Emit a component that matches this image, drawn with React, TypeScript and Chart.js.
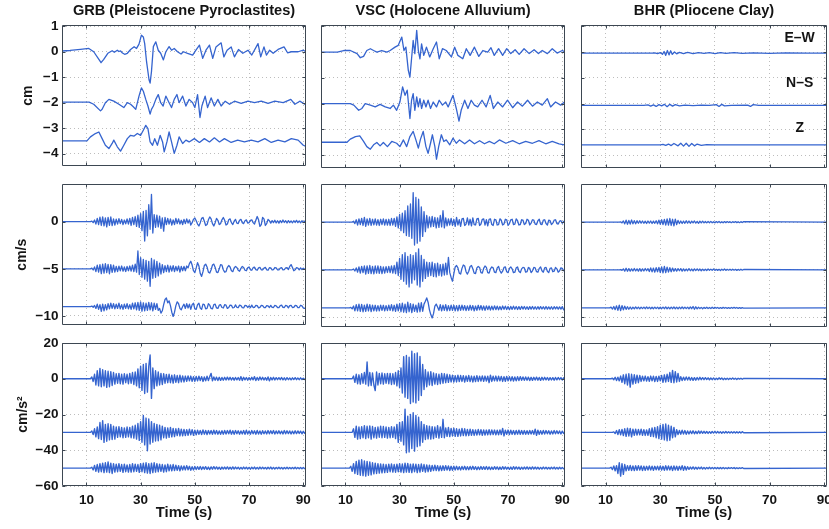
import React, { useEffect, useRef } from 'react';
import { Chart, registerables } from 'chart.js';

Chart.register(...registerables);

// ---------- axes ----------
const TIME_MIN = 1;
const TIME_MAX = 91;
const X_TICKS = [10, 30, 50, 70, 90];
const DISP_TICKS = [1, 0, -1, -2, -3, -4];
const VEL_TICKS = [0, -5, -10];
const ACC_TICKS = [20, 0, -20, -40, -60];
const DISP_RANGE = [-4.5, 1.05];
const VEL_RANGE = [-11, 4];
const ACC_RANGE = [-60, 20];

const STATION_TITLES = ['GRB (Pleistocene Pyroclastites)', 'VSC (Holocene Alluvium)', 'BHR (Pliocene Clay)'];
const ROW_UNITS = ['cm', 'cm/s', 'cm/s\u00B2'];
const COMPONENTS = ['E\u2013W', 'N\u2013S', 'Z'];
const COMPONENT_LABEL_T = 81;
const COMPONENT_LABEL_Y = [0.55, -1.2, -2.95];

// vertical offsets of the three components in each row
const DISP_OFFSETS = [[0, -2, -3.5], [0, -2, -3.5], [-0.04, -2.07, -3.6]];
const VEL_OFFSETS = [0, -5, -9];
const ACC_OFFSETS = [0, -30, -50];

// ---------- displacement (cm), [time s, value] ----------
const GRB_DISP_EW = [[1,0.03],[4,0.05],[7.8,0.09],[10.9,0.13],[12.7,0],[14.6,-0.3],[15.4,-0.43],[16.4,-0.3],[17.9,-0.06],[19.5,0.04],[20.3,-0.02],[21.4,0.06],[22,0.01],[22.6,0.03],[23.3,-0.05],[24.1,-0.1],[25.1,-0.06],[26.3,0.09],[27.6,0.2],[28.5,0.13],[29.4,0.3],[30.3,0.65],[31,0.58],[31.5,0.32],[32.2,-0.4],[33.1,-1.1],[33.5,-1.23],[34,-0.78],[34.7,0.2],[35.6,0.39],[36.5,0.06],[37.4,-0.06],[38.4,-0.32],[39.3,0],[40.5,0.2],[41.4,0.06],[42.4,0.13],[43.6,0],[44.9,-0.09],[45.8,0],[47.3,-0.06],[49.2,-0.13],[50.4,0.06],[51.7,0.26],[52.9,-0.26],[54.1,0.06],[55.4,0.26],[56.6,-0.26],[57.8,0.19],[59.7,0.35],[60.7,-0.2],[61.9,0.06],[63.4,0.19],[64.6,-0.2],[66.1,0.09],[67.7,-0.06],[69.6,0.06],[71,-0.13],[73.3,0.32],[74.3,-0.2],[75.5,0.19],[76.4,-0.13],[77.6,0.06],[78.9,-0.06],[80.7,0.09],[82.9,0.19],[84.2,-0.04],[85.6,0],[88.1,0],[90,0.06],[91,0]];
const GRB_DISP_NS = [[1,0.02],[11,0.02],[12.7,-0.06],[15.2,-0.32],[15.8,-0.26],[17,0],[18.3,0.13],[20.1,0.06],[22,-0.06],[23.8,-0.19],[25.1,0],[26.3,-0.06],[27.3,-0.16],[28.2,-0.26],[29.4,0.26],[30.3,0.58],[31,0.45],[31.9,0.13],[32.7,-0.13],[33.5,-0.45],[34,-0.26],[34.7,-0.13],[35.6,0.13],[36.5,0.32],[37.4,0],[38.3,-0.13],[39.3,0.26],[40.5,0],[41.4,-0.19],[42.4,0.13],[43.4,0.32],[44.2,0],[45.5,0.26],[46.7,-0.13],[47.9,0.13],[49.2,0],[50,-0.19],[51,0.32],[51.9,-0.58],[52.6,-0.13],[53.8,0.26],[54.7,-0.19],[56,0.19],[57.2,-0.13],[58.5,0.13],[59.7,-0.13],[61.2,0.06],[62.8,-0.06],[64.6,0.06],[67.1,-0.03],[69.6,0.06],[72,0],[74.5,0.06],[77,-0.03],[79.5,0.06],[82.6,0],[85.4,0.13],[86.9,-0.06],[88.7,0.06],[90.6,-0.06],[91,-0.04]];
const GRB_DISP_Z = [[1,0],[10.2,0],[11.5,0.16],[13.3,0.29],[14.6,0.35],[15.8,0.09],[17,-0.17],[18.3,-0.3],[19.5,-0.1],[20.1,0.03],[21.4,-0.23],[22.6,-0.4],[23.8,-0.17],[25.1,0.09],[26.3,0.22],[27.6,0.19],[28.8,0.29],[30,0.22],[31,0.42],[31.9,0.61],[32.7,0.48],[33.5,-0.04],[34.4,-0.17],[35.2,0.09],[36.2,-0.17],[37.2,0.22],[38.1,-0.04],[38.7,-0.43],[39.7,-0.04],[40.5,0.35],[41.4,-0.04],[42.4,-0.49],[43.4,-0.17],[44.2,0.16],[45.5,-0.1],[46.7,0.03],[47.9,-0.04],[49.8,0.09],[51.7,-0.06],[53.5,0.09],[55.4,-0.04],[57.2,0.12],[59.1,-0.04],[60.9,0.09],[63.4,-0.06],[65.8,0.03],[68.3,-0.04],[70.8,0.03],[73.3,-0.04],[75.8,0.09],[78.2,-0.06],[80.7,0.03],[83.2,-0.04],[85.6,0.09],[88.1,0.03],[90,-0.17],[91,-0.22]];

const VSC_DISP_EW = [[1,0],[7,0],[9.4,0.06],[11.8,0.06],[14.3,-0.06],[15.5,-0.22],[16.7,-0.17],[17.9,0.06],[19.2,0.13],[20.4,0.06],[21.6,0],[23.4,0.06],[25.3,0],[26.5,0.06],[28.3,0.19],[29.5,0.26],[30.8,0.58],[31.6,0.06],[32.3,0.19],[33.2,-0.71],[33.8,-0.97],[34.4,-0.26],[35,0.45],[35.6,-0.06],[36.3,0.84],[36.9,0.06],[37.5,-0.26],[38.1,0.32],[38.9,-0.13],[39.9,0.19],[41.1,-0.19],[42.4,0.13],[43.6,0.39],[44.6,-0.26],[45.8,0.13],[47.2,0.06],[49.1,-0.19],[50.3,0.19],[51.5,-0.13],[53.3,-0.26],[54.6,0.13],[56,-0.13],[57.6,0.19],[59.2,-0.17],[60.7,0.06],[62.5,0],[63.7,0.17],[64.9,-0.13],[66.5,0.13],[68,-0.13],[69.5,0.13],[71,-0.06],[72.6,0.09],[74.1,-0.09],[75.9,0.13],[77.8,-0.06],[79.6,0.09],[81.2,-0.06],[82.6,0.06],[84.5,-0.06],[86.3,0.13],[88.1,-0.04],[90,0.06],[91,0]];
const VSC_DISP_NS = [[1,0],[11.8,0],[13.1,-0.06],[14.9,-0.26],[16.1,-0.19],[17.3,0],[19.2,-0.06],[21,-0.13],[22.8,-0.03],[24.7,-0.13],[26.5,-0.19],[27.7,-0.06],[28.9,-0.26],[30.1,0.06],[31.1,0.65],[32,0.32],[32.8,0.52],[33.8,-0.58],[34.4,0.13],[35,0.39],[35.6,-0.26],[36.3,0.26],[36.9,-0.13],[37.5,0.19],[38.1,-0.19],[38.9,0.13],[39.7,-0.13],[40.5,0.13],[41.4,-0.19],[42.4,0.06],[43.6,-0.13],[44.6,0.13],[45.8,-0.06],[47,0.06],[47.9,-0.13],[49.7,0.32],[50.9,-0.19],[51.9,-0.68],[52.7,-0.26],[54,0.13],[55.2,-0.19],[56.4,0.13],[57.6,-0.06],[58.8,-0.13],[60.4,0.13],[61.9,-0.13],[63.4,0.32],[64.6,-0.19],[66.2,0.06],[68,-0.13],[69.8,0.13],[71.7,-0.16],[73.5,0.06],[75.3,-0.1],[77.2,0.13],[79,-0.1],[80.8,0.06],[82.6,-0.06],[84.5,0.19],[85.7,-0.13],[87.5,0.06],[89.4,-0.06],[90.8,0.06],[91,0.04]];
const VSC_DISP_Z = [[1,0],[10.6,0],[11.8,0.12],[13.7,0.22],[15.3,0.25],[16.7,0.03],[17.9,-0.17],[19.2,-0.27],[20.4,-0.1],[21.6,-0.01],[22.8,-0.14],[24,-0.01],[25.5,-0.17],[27.1,0.03],[28.9,-0.04],[30.1,-0.17],[31.4,0.09],[32.6,-0.17],[33.8,0.22],[35,0.42],[36,0.09],[36.9,-0.23],[37.7,0.12],[38.7,0.42],[39.7,-0.17],[40.5,-0.43],[41.4,-0.04],[42.1,0.29],[43,-0.17],[43.6,-0.66],[44.4,-0.17],[45.4,0.29],[46.3,0.03],[47.2,0.09],[48.5,-0.1],[49.7,0.16],[50.9,-0.04],[52.1,0.09],[54,-0.06],[55.8,0.09],[57.6,-0.06],[59.5,0.06],[61.3,-0.06],[63.1,0.03],[64.9,-0.06],[66.8,0.09],[69.2,-0.04],[71.7,0.06],[74.1,-0.06],[76.5,0.03],[79,-0.04],[81.4,0.06],[83.9,-0.06],[86.3,0.03],[88.8,-0.06],[90.8,-0.1],[91,-0.1]];

const BHR_DISP_EW = [[1,0],[27,0],[28,0.01],[29,-0.02],[30,0.02],[30.8,-0.05],[31.4,0.06],[32,-0.09],[32.6,0.1],[33.2,-0.07],[33.8,0.09],[34.4,-0.05],[35.2,0.04],[36,-0.03],[37,0.03],[38.5,-0.02],[40,0.03],[42,-0.02],[44,0.02],[46,-0.01],[48,0.02],[50,-0.02],[52,0.02],[54,-0.01],[57,0.02],[60,-0.01],[64,0.01],[70,-0.01],[76,0.01],[84,0],[91,0]];
const BHR_DISP_NS = [[1,0],[24,0],[25.5,0.02],[26.5,-0.03],[27.5,0.02],[28.5,-0.04],[29.5,0.03],[30.5,-0.02],[31.5,0.04],[32.5,-0.05],[33.5,0.04],[34.5,-0.03],[35.5,0.03],[37,-0.02],[39,0.01],[42,-0.01],[45,0.01],[48,0],[50.5,0.03],[51.5,-0.04],[52.5,0.04],[53.5,-0.02],[56,0],[62,0.01],[63,-0.04],[64,0.03],[66,0],[91,0]];
const BHR_DISP_Z = [[1,0],[30,0],[31,0.02],[32,-0.02],[33,0.03],[34,-0.03],[35,0.05],[36.5,-0.04],[37.5,0.06],[38.5,-0.05],[39.5,0.06],[40.5,-0.06],[41.5,0.05],[42.5,-0.04],[43.5,0.03],[45,-0.02],[47,0.01],[50,0],[91,0]];

// ---------- velocity (0.01 cm/s) and acceleration (0.1 cm/s^2) ----------
// sampled every SAMPLE_DT seconds starting at SAMPLE_START; quiet (zero) before that
const SAMPLE_START = 11;
const SAMPLE_DT = 0.5;
const VEL_UNIT = 100;
const ACC_UNIT = 10;

const GRB_VEL_EW = [
  0,0,6,-10,18,-25,35,-30,48,-40,
  52,-45,40,-55,45,-38,50,-42,30,-35,
  28,-25,32,-20,25,-30,18,-22,30,-25,
  35,-40,45,-30,55,-50,70,-60,85,-95,
  110,-205,120,-150,180,-80,290,-120,75,-60,
  70,-55,60,-70,40,-100,45,-30,35,-25,
  30,-35,20,-30,35,-20,30,-25,15,-30,
  25,-20,30,-15,20,-35,-10,25,40,10,
  -25,-45,-10,35,45,5,-40,-30,20,50,
  30,-20,-45,-10,35,15,-30,-20,20,45,
  15,-35,-25,20,30,-10,-30,5,25,-15,
  -20,15,25,-10,-20,10,20,-15,-10,15,
  20,-10,-25,15,55,20,-50,-30,45,30,
  -40,-20,25,10,-15,12,-10,15,-12,10,
  -15,12,-10,18,-8,10,-14,12,-10,8,
  -12,10,-8,14,-10,8,-12,10,-8,6,
];
const GRB_VEL_NS = [
  0,0,8,-12,20,-30,40,-35,45,-50,
  50,-45,55,-40,48,-52,45,-38,40,-35,
  25,-30,28,-22,30,-25,20,-28,25,-20,
  30,-25,40,-30,50,-35,190,-60,120,-90,
  100,-110,90,-130,80,-185,110,-100,95,-90,
  80,-75,60,-55,45,-40,35,-30,40,-35,
  30,-25,35,-30,25,-20,30,-35,25,-20,
  25,-20,30,10,55,80,40,-20,-40,10,
  65,30,-50,-80,-30,35,50,20,-35,-45,
  -10,40,50,15,-35,-40,0,45,40,-10,
  -35,-30,15,35,20,-20,-30,10,25,15,
  -15,-25,5,25,15,-15,-20,10,20,-10,
  -15,12,18,-8,-15,10,15,-10,-12,8,
  15,-10,-15,12,10,-12,-8,14,10,-10,
  -12,8,12,-10,-8,10,12,-8,25,45,
  15,-20,-10,12,8,-10,10,-8,6,-5,
];
const GRB_VEL_Z = [
  0,0,5,-8,12,-20,25,-30,20,-50,
  25,-45,20,-35,30,-25,35,-20,30,-25,
  25,-20,35,-25,20,-30,25,-20,30,-25,
  20,-30,35,-25,40,-35,45,-40,50,-50,
  40,-45,35,-40,45,-35,40,-45,35,-30,
  30,-40,-20,-70,-45,20,75,90,40,60,
  10,-60,-105,-60,10,50,30,-20,-35,0,
  25,-20,30,-15,25,-30,20,35,-25,-30,
  20,35,-15,-30,25,20,-25,-20,30,15,
  -20,-25,20,25,-15,-20,15,20,-10,-15,
  20,15,-20,-10,15,12,-15,-10,18,-8,
  -12,15,10,-12,-15,12,10,-10,8,-12,
  15,-10,-8,12,10,-14,-8,12,10,-10,
  -12,10,8,-10,12,-8,-10,12,8,-10,
  -12,10,15,-8,-10,12,8,-14,10,12,
  -10,-8,12,10,-12,-10,14,8,-15,-20,
  -15,
];

const VSC_VEL_EW = [
  0,0,0,0,10,-15,25,-30,35,-25,
  40,-35,50,-45,35,-30,40,-35,30,-28,
  35,-30,25,-35,30,-25,35,-30,28,-32,
  30,-35,38,-30,40,-45,55,-60,80,-90,
  95,-110,120,-140,170,-150,190,-170,310,-240,
  260,-220,240,-200,160,-150,110,-100,70,-60,
  55,-50,60,-45,50,-60,45,-55,70,-50,
  120,-60,45,-40,35,-30,40,-35,30,-45,
  50,-30,25,-45,35,40,-35,-20,45,-30,
  30,-40,45,-25,-30,35,40,-35,-20,30,
  35,-30,25,-40,30,35,-25,-35,30,25,
  -30,-25,35,20,-30,-20,30,25,-35,-15,
  25,30,-25,-20,35,15,-30,-25,25,20,
  -25,-15,30,20,-30,-10,25,20,-20,-25,
  15,30,-20,-25,20,25,-15,-30,20,15,
  -25,-10,20,25,-15,-20,10,15,-12,8,
];
const VSC_VEL_NS = [
  0,0,0,0,8,-12,20,-25,30,-35,
  35,-30,40,-45,42,-38,45,-40,35,-42,
  40,-35,42,-38,35,-40,30,-35,32,-28,
  35,-30,40,-35,45,-40,80,-60,120,-100,
  160,-120,180,-150,140,-180,160,-140,150,-105,
  180,-160,220,-180,150,-120,110,-90,80,-70,
  75,-60,80,-70,65,-75,70,-60,55,-65,
  60,-55,70,-50,130,-30,-80,-120,-40,30,
  45,20,-35,-45,15,50,40,-20,-45,-15,
  35,45,10,-35,-40,20,35,25,-30,-35,
  15,40,25,-30,-35,10,30,20,-25,-30,
  20,35,-10,-35,-15,25,30,-20,-30,15,
  30,10,-30,-25,20,30,-15,-30,10,25,
  20,-25,-20,25,15,-30,-10,25,20,-20,
  -25,15,30,-10,-25,20,25,-15,-30,15,
  20,-20,-15,25,10,-25,-10,20,15,-10,
];
const VSC_VEL_Z = [
  0,0,5,-10,20,-30,35,-30,40,-35,
  38,-40,30,-35,40,-32,35,-38,30,-30,
  28,-32,25,-30,30,-25,28,-30,25,-28,
  30,-25,35,-30,28,-35,40,-30,45,-40,
  50,-45,40,-50,60,-40,45,-50,40,-35,
  30,-45,50,-40,55,-35,40,70,105,60,
  -20,-70,-105,-60,20,40,10,-25,35,-30,
  30,-25,35,-30,25,-28,30,-25,28,-30,
  25,-30,28,-25,30,-22,25,-28,22,-25,
  28,-22,25,-30,20,-25,28,-20,25,-22,
  20,-25,22,-18,20,-22,18,-20,22,-18,
  18,-20,15,-18,20,-15,18,-16,15,-18,
  16,-15,18,-14,15,-16,14,-15,16,-12,
  15,-14,12,-15,14,-12,15,-13,12,-14,
  13,-12,14,-11,12,-13,15,-12,11,-13,
  12,-14,13,-10,12,-13,11,-12,14,-20,
  -10,
];

const BHR_VEL_EW = [
  0,0,0,0,0,0,0,0,0,3,
  -8,12,-18,20,-22,18,-20,22,-18,15,
  -18,15,-12,14,-10,12,-12,10,-14,12,
  -10,12,-14,10,-12,15,-18,20,-22,25,
  -25,28,-30,35,-32,38,-35,30,-38,32,
  -25,18,-15,12,-14,10,-12,14,-10,12,
  -12,10,-8,12,-10,8,-12,10,-8,10,
  -8,6,-8,7,-6,8,-6,5,-7,6,
  -5,7,-6,5,-7,6,-5,6,-4,5,
  -6,5,-4,6,-5,4,-6,5,-4,5,
];
const BHR_VEL_NS = [
  0,0,0,0,0,0,0,0,0,3,
  -6,10,-14,16,-15,12,-14,10,-12,14,
  -12,10,-14,12,-15,10,-12,14,-10,12,
  -18,20,-22,18,-25,22,-20,25,-28,30,
  -32,35,-30,28,-25,22,-20,18,-15,12,
  -14,12,-10,12,-14,10,-12,8,-10,12,
  -10,8,-12,10,-8,10,-9,8,-10,7,
  -8,6,-7,8,-6,7,-5,8,-6,5,
  -6,5,-7,6,-5,8,-6,5,-4,6,
  -5,6,-4,5,-6,4,-5,6,-4,3,
];
const BHR_VEL_Z = [
  0,0,8,-12,15,-18,22,-25,30,-28,
  25,-20,18,-15,12,-14,10,-12,8,-10,
  10,-8,9,-10,8,-7,9,-8,10,-7,
  8,-9,7,-8,9,-7,8,-9,7,-8,
  9,-8,10,-9,8,-10,9,-8,10,-9,
  8,-10,9,-8,10,-8,9,-7,8,-9,
  10,-8,15,-14,12,-10,8,-7,6,-8,
  6,-5,7,-6,5,-6,7,-5,6,-4,
  5,-6,4,-5,6,-4,5,-5,4,-5,
  5,-4,6,-4,5,-5,4,-5,4,-3,
];

const GRB_ACC_EW = [
  0,0,10,-15,25,-35,45,-40,58,-45,
  50,-40,45,-48,42,-45,40,-38,35,-30,
  28,-25,30,-28,25,-30,28,-22,25,-28,
  30,-25,35,-32,38,-40,55,-50,70,-65,
  80,-83,86,-75,70,133,-110,60,-55,45,
  -40,38,-35,30,-32,28,-25,24,-22,25,
  -22,20,-24,22,-20,18,-22,20,-18,16,
  -18,15,-14,16,-12,15,-14,12,-15,13,
  -12,14,-10,12,-15,10,-12,14,-10,12,
  30,-12,10,-8,9,-10,8,-9,7,-8,
  8,-7,9,-6,8,-7,6,-8,7,-6,
  7,-8,12,-10,8,-6,7,-8,6,-7,
  8,-6,12,-10,7,-8,10,-6,8,-7,
  6,-8,10,-12,7,-6,8,-7,6,-5,
  6,-5,7,-6,5,-7,6,-5,4,-6,
  5,-4,6,-5,4,-5,5,-4,3,-4,
];
const GRB_ACC_NS = [
  0,0,8,-12,20,-25,30,-35,55,-40,
  66,-56,45,-50,48,-42,45,-40,35,-38,
  30,-28,32,-25,28,-30,25,-28,30,-25,
  28,-30,35,-32,40,-38,50,-45,60,-55,
  94,-70,80,-103,75,-65,60,-55,50,-48,
  45,-47,40,-42,35,-30,28,-32,25,-28,
  28,-25,22,-24,20,-18,22,-20,18,-19,
  17,-18,15,-16,18,-14,15,-16,12,-14,
  12,-11,10,-12,14,-10,11,-12,10,-9,
  10,-11,12,-9,10,-10,8,-11,9,-10,
  11,-9,10,-8,12,-10,9,-11,10,-8,
  9,-10,8,-9,10,-11,12,-9,8,-10,
  10,-8,9,-10,11,-9,8,-10,9,-8,
  8,-9,10,-8,9,-7,10,-9,8,-7,
  9,-8,7,-9,10,-8,9,-7,8,-9,
  7,-8,9,-7,8,-6,7,-8,6,-5,
];
const GRB_ACC_Z = [
  0,0,5,-10,15,-18,20,-22,25,-20,
  28,-25,30,-22,35,-25,28,-30,25,-22,
  22,-20,25,-18,20,-24,22,-20,18,-22,
  20,-22,25,-20,22,-18,20,-24,25,-20,
  28,-25,30,-28,25,-30,28,-25,30,-22,
  25,-20,22,-18,20,-22,18,-20,22,-15,
  18,-15,20,-14,16,-12,14,-15,12,-10,
  12,-10,14,-9,10,-12,8,-10,9,-8,
  8,-7,9,-8,7,-6,8,-7,6,-8,
  7,-6,8,-5,7,-6,5,-7,6,-5,
  6,-5,7,-6,5,-6,7,-5,6,-4,
  5,-6,4,-5,6,-4,5,-5,4,-6,
  5,-4,6,-5,4,-5,6,-4,5,-4,
  4,-5,5,-4,6,-5,4,-5,4,-3,
  5,-4,4,-5,3,-4,5,-4,3,-4,
  4,-3,5,-4,3,-4,4,-3,4,-3,
];

const VSC_ACC_EW = [
  0,0,0,0,15,-20,25,-28,22,-30,
  28,-25,35,-30,94,-40,35,-38,32,-35,
  -66,38,-35,30,-28,32,-30,28,-25,30,
  -28,30,-32,28,-30,35,-40,45,-50,60,
  -80,124,-103,130,-110,120,-139,154,-130,140,
  -135,145,-120,125,-94,80,-60,50,-45,38,
  -35,40,-38,32,-30,28,-32,25,-28,30,
  -25,28,-22,25,-20,22,-18,20,-19,17,
  -18,20,-16,18,-15,17,-19,16,-14,18,
  -16,15,-18,14,-16,17,-15,14,-13,16,
  -14,15,-13,14,-22,20,-15,14,-12,15,
  -13,14,-12,13,-15,12,-14,13,-11,12,
  -12,11,-13,10,-12,11,-10,12,-9,10,
  -9,10,-8,9,-10,8,-9,8,-7,9,
  -8,7,-9,8,-7,8,-6,7,-8,6,
  -7,6,-8,7,-6,7,-5,6,-7,5,
];
const VSC_ACC_NS = [
  0,0,0,0,20,-28,35,-38,30,-35,
  32,-30,38,-35,34,-30,36,-38,33,-30,
  28,-32,30,-27,35,-30,33,-28,30,-32,
  28,-30,32,-28,30,-35,45,-56,56,-50,
  60,-70,130,-114,90,-110,100,-90,110,-105,
  95,-80,85,-75,60,-55,45,-40,38,-36,
  35,-38,32,-35,30,-28,38,-32,30,-28,
  73,-30,25,-22,28,-24,22,-20,24,-22,
  20,-22,18,-20,22,-18,20,-19,17,-18,
  18,-16,15,-17,14,-15,16,-14,15,-16,
  14,-15,13,-14,15,-13,14,-12,13,-14,
  12,-13,14,-12,22,-20,12,-11,13,-12,
  12,-11,10,-12,11,-10,12,-11,10,-11,
  10,-11,9,-10,11,-9,10,-11,18,-16,
  12,-11,9,-10,11,-9,10,-8,9,-10,
  8,-9,10,-8,9,-7,8,-9,7,-6,
];
const VSC_ACC_Z = [
  0,0,10,-18,25,-30,38,-35,45,-40,
  47,-42,40,-45,38,-40,35,-38,30,-32,
  28,-30,25,-28,24,-26,22,-25,20,-24,
  22,-20,24,-22,20,-23,22,-20,25,-22,
  23,-25,28,-22,26,-24,22,-25,24,-20,
  22,-25,20,-22,24,-18,20,-22,18,-20,
  16,-18,15,-14,16,-13,14,-15,12,-14,
  13,-12,14,-11,12,-13,10,-12,11,-10,
  10,-9,8,-10,9,-8,10,-9,8,-9,
  9,-8,10,-7,8,-9,7,-8,9,-7,
  8,-7,9,-8,7,-8,6,-7,8,-6,
  7,-8,6,-7,8,-6,7,-6,5,-7,
  6,-7,8,-6,7,-5,6,-7,5,-6,
  6,-5,7,-6,5,-6,7,-5,6,-5,
  5,-6,4,-5,6,-4,5,-5,4,-5,
  5,-4,6,-5,4,-5,5,-4,3,-4,
];

const BHR_ACC_EW = [
  0,0,0,3,-5,8,-10,9,-12,15,
  -20,22,-28,25,-35,28,-47,25,-30,22,
  -25,20,-22,18,-15,14,-12,15,-13,12,
  -14,15,-12,14,-16,13,-15,14,-12,18,
  -20,22,-18,25,-15,35,-20,47,-22,40,
  -18,30,-15,12,-10,9,-8,10,-7,9,
  -8,7,-9,6,-8,7,-6,8,-5,6,
  -5,6,-4,5,-6,4,-5,4,-5,3,
  -4,5,-3,4,-5,3,-4,3,-4,3,
  -3,4,-3,3,-4,3,-2,3,-3,2,
];
const BHR_ACC_NS = [
  0,0,0,0,3,-6,10,-12,15,-14,
  16,-18,20,-22,24,-20,22,-25,18,-16,
  18,-15,16,-14,18,-16,15,-17,14,-16,
  20,-22,25,-24,28,-30,32,-35,40,-38,
  45,-42,47,-47,40,-44,35,-30,28,-25,
  15,-12,11,-10,12,-9,10,-11,8,-9,
  8,-7,9,-8,6,-7,8,-6,7,-5,
  6,-5,5,-6,4,-5,5,-4,6,-4,
  5,-4,4,-5,3,-4,5,-3,4,-4,
  3,-4,4,-3,3,-4,3,-3,4,-2,
];
const BHR_ACC_Z = [
  0,0,5,-8,12,-15,14,-30,30,-45,
  25,-35,20,-15,14,-12,15,-13,12,-14,
  13,-12,14,-11,12,-13,11,-12,10,-11,
  12,-10,11,-12,10,-9,11,-10,12,-11,
  10,-12,13,-11,12,-10,11,-13,12,-10,
  11,-12,10,-9,14,-12,10,-11,8,-7,
  6,-5,7,-6,5,-6,5,-4,6,-5,
  4,-5,4,-3,5,-4,3,-4,4,-3,
  3,-4,3,-3,4,-3,2,-3,3,-2,
  3,-2,3,-3,2,-3,2,-2,3,-2,
];

const DISP = [
  [GRB_DISP_EW, GRB_DISP_NS, GRB_DISP_Z],
  [VSC_DISP_EW, VSC_DISP_NS, VSC_DISP_Z],
  [BHR_DISP_EW, BHR_DISP_NS, BHR_DISP_Z],
];
const VEL = [
  [GRB_VEL_EW, GRB_VEL_NS, GRB_VEL_Z],
  [VSC_VEL_EW, VSC_VEL_NS, VSC_VEL_Z],
  [BHR_VEL_EW, BHR_VEL_NS, BHR_VEL_Z],
];
const ACC = [
  [GRB_ACC_EW, GRB_ACC_NS, GRB_ACC_Z],
  [VSC_ACC_EW, VSC_ACC_NS, VSC_ACC_Z],
  [BHR_ACC_EW, BHR_ACC_NS, BHR_ACC_Z],
];

// ---------- styling / layout ----------
const FONT = "'Liberation Sans', Arial, Helvetica, sans-serif";
const TEXT_COLOR = '#141414';
const TRACE_COLOR = '#3564cf';
const TRACE_WIDTH = [1.3, 1.3, 1.4];
const FRAME_COLOR = '#3d4752';
const GRID_COLOR = '#bdbdbd';

const PLOT_LEFT = [62, 321, 581];
const PLOT_WIDTH = [244, 244, 246];
const PLOT_TOP = [25, 184, 343];
const PLOT_HEIGHT = 143;
const Y_AXIS_W = [62, 6, 6];
const PAD_RIGHT = 14;
const TOP_SPACE = [25, 12, 12];
const X_AXIS_H = [0, 0, 43];
const PAD_BOTTOM = [10, 10, 0];
const Y_TITLE_PAD = [19.6, 13.3, 14.3];

type Pt = { x: number; y: number };

function fromPairs(pairs: number[][], offset: number): Pt[] {
  return pairs.map(([t, v]) => ({ x: t, y: v + offset }));
}

function fromSamples(vals: number[], unit: number, offset: number): Pt[] {
  const pts: Pt[] = [{ x: TIME_MIN, y: offset }];
  vals.forEach((v, i) => pts.push({ x: SAMPLE_START + i * SAMPLE_DT, y: v / unit + offset }));
  const last = pts[pts.length - 1].x;
  if (last < TIME_MAX) pts.push({ x: TIME_MAX, y: offset });
  return pts;
}

const minusLabel = (v: number) => (v < 0 ? '\u2212' + String(-v) : String(v));

const axesBox = {
  id: 'axesBox',
  afterDatasetsDraw(chart: any) {
    const { ctx, chartArea: a, scales } = chart;
    const l = Math.round(a.left) + 0.5;
    const t = Math.round(a.top) + 0.5;
    const r = Math.round(a.right) - 0.5;
    const b = Math.round(a.bottom) - 0.5;
    ctx.save();
    ctx.strokeStyle = FRAME_COLOR;
    ctx.lineWidth = 1;
    ctx.beginPath();
    ctx.rect(l, t, r - l, b - t);
    for (const tk of scales.x.ticks) {
      const px = Math.round(scales.x.getPixelForValue(tk.value)) + 0.5;
      ctx.moveTo(px, b); ctx.lineTo(px, b - 3);
      ctx.moveTo(px, t); ctx.lineTo(px, t + 3);
    }
    for (const tk of scales.y.ticks) {
      const py = Math.round(scales.y.getPixelForValue(tk.value)) + 0.5;
      ctx.moveTo(l, py); ctx.lineTo(l + 3, py);
      ctx.moveTo(r, py); ctx.lineTo(r - 3, py);
    }
    ctx.stroke();
    ctx.restore();
  },
};

const componentLabels = {
  id: 'componentLabels',
  afterDatasetsDraw(chart: any, _args: any, opts: any) {
    if (!opts || !opts.show) return;
    const { ctx, scales } = chart;
    ctx.save();
    ctx.fillStyle = TEXT_COLOR;
    ctx.font = `bold 14px ${FONT}`;
    ctx.textAlign = 'center';
    ctx.textBaseline = 'middle';
    COMPONENTS.forEach((name, i) => {
      ctx.fillText(name, scales.x.getPixelForValue(COMPONENT_LABEL_T), scales.y.getPixelForValue(COMPONENT_LABEL_Y[i]));
    });
    ctx.restore();
  },
};

type PanelProps = { row: number; col: number };

function Panel({ row, col }: PanelProps) {
  const ref = useRef<HTMLCanvasElement>(null);
  const left = PLOT_LEFT[col] - Y_AXIS_W[col];
  const top = PLOT_TOP[row] - TOP_SPACE[row];
  const width = Y_AXIS_W[col] + PLOT_WIDTH[col] + PAD_RIGHT;
  const height = TOP_SPACE[row] + PLOT_HEIGHT + X_AXIS_H[row] + PAD_BOTTOM[row];

  useEffect(() => {
    const canvas = ref.current;
    if (!canvas) return;
    let series: Pt[][];
    let range: number[];
    let yTicks: number[];
    if (row === 0) {
      series = DISP[col].map((p, i) => fromPairs(p, DISP_OFFSETS[col][i]));
      range = DISP_RANGE;
      yTicks = DISP_TICKS;
    } else if (row === 1) {
      series = VEL[col].map((v, i) => fromSamples(v, VEL_UNIT, VEL_OFFSETS[i]));
      range = VEL_RANGE;
      yTicks = VEL_TICKS;
    } else {
      series = ACC[col].map((v, i) => fromSamples(v, ACC_UNIT, ACC_OFFSETS[i]));
      range = ACC_RANGE;
      yTicks = ACC_TICKS;
    }
    const tickFont = { family: FONT, size: 13.5, weight: 'bold' as const };
    const chart = new Chart(canvas, {
      type: 'line',
      data: {
        datasets: series.map((pts) => ({
          data: pts,
          borderColor: TRACE_COLOR,
          borderWidth: TRACE_WIDTH[row],
          borderJoinStyle: 'round',
          pointRadius: 0,
          fill: false,
          tension: 0,
        })),
      },
      options: {
        responsive: false,
        animation: false,
        devicePixelRatio: 1,
        parsing: false,
        normalized: true,
        events: [],
        layout: {
          padding: { left: 0, right: PAD_RIGHT, top: row === 0 ? 0 : TOP_SPACE[row], bottom: PAD_BOTTOM[row] },
        },
        plugins: {
          legend: { display: false },
          tooltip: { enabled: false },
          title: {
            display: row === 0,
            text: STATION_TITLES[col],
            fullSize: false,
            color: TEXT_COLOR,
            font: { family: FONT, size: 14.6, weight: 'bold' },
            padding: { top: 2, bottom: 5.48 },
          },
          componentLabels: { show: row === 0 && col === 2 },
        } as any,
        scales: {
          x: {
            type: 'linear',
            min: TIME_MIN,
            max: TIME_MAX,
            afterBuildTicks: (axis: any) => {
              axis.ticks = X_TICKS.map((v) => ({ value: v }));
            },
            afterFit: (s: any) => {
              s.height = X_AXIS_H[row];
            },
            grid: { color: GRID_COLOR, lineWidth: 1, drawTicks: false },
            border: { display: false, dash: [1, 3] },
            ticks: {
              display: row === 2,
              color: TEXT_COLOR,
              font: tickFont,
              padding: 6,
              maxRotation: 0,
              autoSkip: false,
            },
            title: {
              display: row === 2,
              text: 'Time (s)',
              color: TEXT_COLOR,
              font: { family: FONT, size: 14.8, weight: 'bold' },
              padding: { top: 0, bottom: 7 },
            },
          },
          y: {
            type: 'linear',
            min: range[0],
            max: range[1],
            afterBuildTicks: (axis: any) => {
              axis.ticks = yTicks.map((v) => ({ value: v }));
            },
            afterFit: (s: any) => {
              s.width = Y_AXIS_W[col];
            },
            grid: { color: GRID_COLOR, lineWidth: 1, drawTicks: false },
            border: { display: false, dash: [1, 3] },
            ticks: {
              display: col === 0,
              color: TEXT_COLOR,
              font: tickFont,
              padding: 3.5,
              callback: (v: any) => minusLabel(Number(v)),
            },
            title: {
              display: col === 0,
              text: ROW_UNITS[row],
              color: TEXT_COLOR,
              font: { family: FONT, size: 14, weight: 'bold' },
              padding: { top: Y_TITLE_PAD[row], bottom: 0 },
            },
          },
        },
      } as any,
      plugins: [axesBox, componentLabels],
    });
    return () => chart.destroy();
  }, [row, col]);

  return (
    <canvas
      ref={ref}
      width={width}
      height={height}
      style={{ position: 'absolute', left, top, width, height }}
    />
  );
}

export default function App() {
  const cells: PanelProps[] = [];
  for (let r = 0; r < 3; r++) for (let c = 0; c < 3; c++) cells.push({ row: r, col: c });
  return (
    <div
      style={{
        position: 'absolute',
        left: 0,
        top: 0,
        width: 829,
        height: 529,
        overflow: 'hidden',
        background: '#ffffff',
      }}
    >
      {cells.map((p) => (
        <Panel key={`${p.row}-${p.col}`} row={p.row} col={p.col} />
      ))}
    </div>
  );
}
